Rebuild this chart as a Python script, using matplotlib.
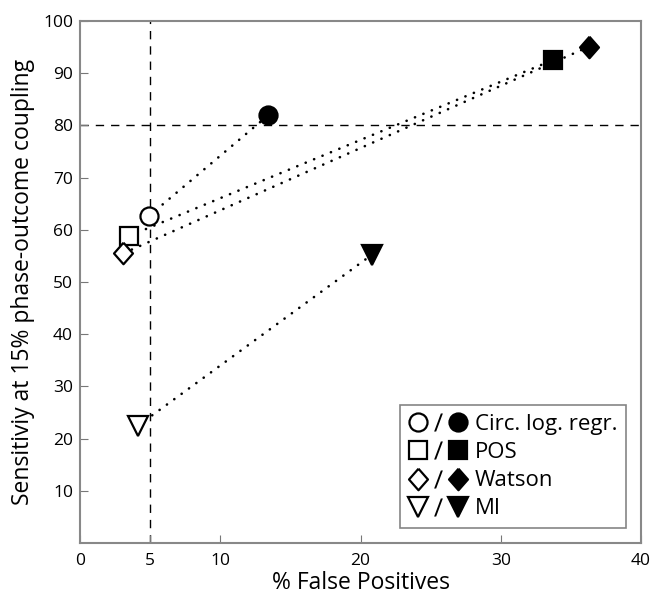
import matplotlib
matplotlib.use("Agg")
import matplotlib.pyplot as plt
from matplotlib.lines import Line2D
from matplotlib.legend_handler import HandlerTuple

plt.rcParams['font.family'] = ['Open Sans', 'DejaVu Sans']

methods = ["Circ. log. regr.", "POS", "Watson", "MI"]
open_fp = [4.9, 3.5, 3.1, 4.1]
open_sens = [62.6, 58.8, 55.5, 22.4]
filled_fp = [13.4, 33.7, 36.3, 20.8]
filled_sens = [81.9, 92.5, 95.1, 55.2]

xticks = [0, 5, 10, 20, 30, 40]
yticks = [10, 20, 30, 40, 50, 60, 70, 80, 90, 100]

diamond = [(0, 1), (0.88, 0), (0, -1), (-0.88, 0), (0, 1)]
markers = ["o", "s", diamond, "v"]
marker_sizes = [13, 12.5, 15.5, 14]

fig = plt.figure(figsize=(6.54, 5.99), dpi=100)
ax = fig.add_axes([0.1223, 0.0935, 0.858, 0.8715])

ax.axvline(5, color='black', lw=1, dashes=(6, 5), zorder=1)
ax.axhline(80, color='black', lw=1, dashes=(6, 5), zorder=1)

handles = []
for i, m in enumerate(methods):
    ax.plot([open_fp[i], filled_fp[i]], [open_sens[i], filled_sens[i]],
            color='black', lw=1.9, ls=(0, (0.05, 3.4)), dash_capstyle='round', zorder=2)
    ax.plot(open_fp[i], open_sens[i], marker=markers[i], ms=marker_sizes[i],
            mfc='white', mec='black', mew=1.6, ls='none', zorder=3)
    ax.plot(filled_fp[i], filled_sens[i], marker=markers[i], ms=marker_sizes[i],
            mfc='black', mec='black', mew=1.6, ls='none', zorder=3)
    slash = Line2D([], [], marker=r'$\mathregular{/}$', ms=13, mew=0, color='black', ls='none')
    hol = Line2D([], [], marker=markers[i], ms=marker_sizes[i], mfc='white', mec='black', mew=1.6, ls='none')
    hfl = Line2D([], [], marker=markers[i], ms=marker_sizes[i], mfc='black', mec='black', mew=1.6, ls='none')
    handles.append((hol, slash, hfl))

ax.set_xlim(0, 40)
ax.set_ylim(0, 100)
ax.set_xticks(xticks)
ax.set_yticks(yticks)
ax.tick_params(direction='in', length=6, color='#777777', labelsize=12.5, pad=5)
ax.tick_params(axis='x', pad=7)
for s in ax.spines.values():
    s.set_color('#888888')
    s.set_linewidth(1.5)

ax.set_xlabel("% False Positives", fontsize=16.5, labelpad=2)
ax.set_ylabel("Sensitiviy at 15% phase-outcome coupling", fontsize=16.5, labelpad=6)

leg = ax.legend(handles, methods, handler_map={tuple: HandlerTuple(ndivide=None, pad=0.12)},
                loc='lower right', bbox_to_anchor=(0.9735, 0.028), fontsize=16,
                handlelength=2.6, handletextpad=0.35, labelspacing=0.32,
                frameon=True, fancybox=False, borderpad=0.4, borderaxespad=0)
leg.get_frame().set_edgecolor('#666666')
leg.get_frame().set_linewidth(1.2)

fig.savefig("out.png", dpi=100)
